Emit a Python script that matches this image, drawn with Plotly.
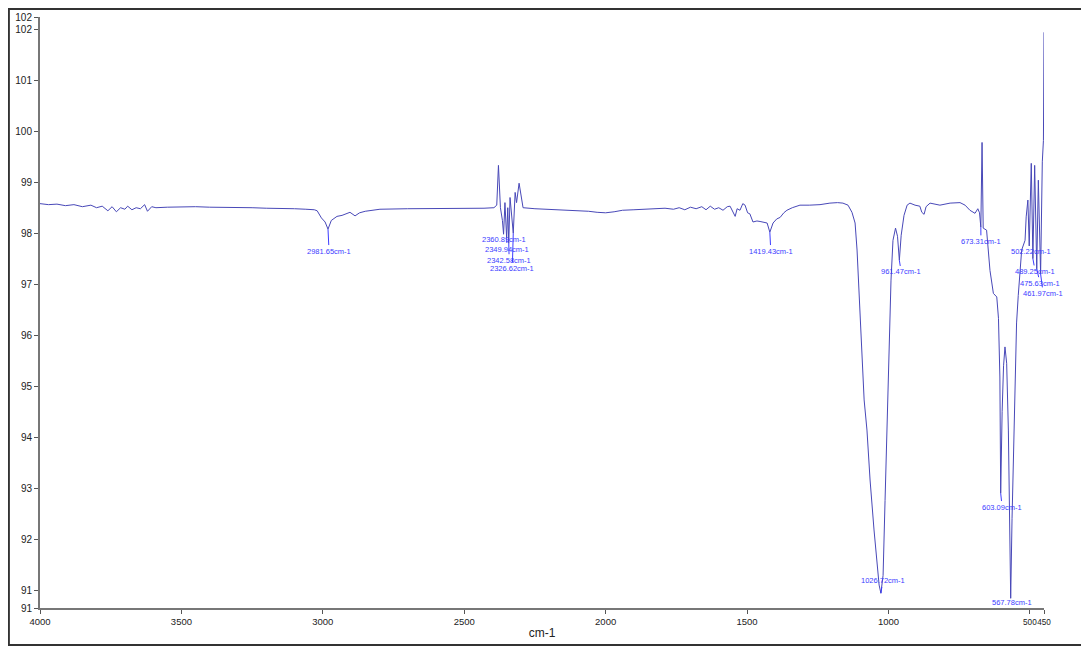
import plotly.graph_objects as go

# ---- data ----
wavenumber = [
    4000, 3970, 3940, 3910, 3880, 3850, 3820, 3800, 3780, 3760, 3745, 3730, 3715, 3700,
    3690, 3675, 3660, 3645, 3630, 3620, 3605, 3590, 3550, 3500, 3450, 3400, 3350, 3300,
    3250, 3200, 3150, 3100, 3060, 3030, 3020, 3005, 2992, 2981.65, 2970, 2950, 2932,
    2915, 2904, 2886, 2870, 2850, 2820, 2798, 2700, 2600, 2500, 2430, 2395, 2385, 2379,
    2372, 2365, 2360.89, 2356, 2349.94, 2346, 2342.58, 2338, 2333, 2326.62, 2320, 2315,
    2306, 2300, 2292, 2250, 2200, 2150, 2100, 2060, 2030, 2000, 1970, 1940, 1900, 1860,
    1820, 1790, 1760, 1740, 1720, 1700, 1680, 1660, 1645, 1630, 1615, 1600, 1585, 1570,
    1560, 1550, 1542, 1535, 1525, 1515, 1507, 1498, 1490, 1479, 1465, 1454, 1440, 1429,
    1419.43, 1408, 1395, 1383, 1370, 1359, 1340, 1313, 1280, 1242, 1207, 1180, 1161,
    1143, 1129, 1118, 1111, 1104, 1097, 1086, 1076, 1065, 1051, 1040, 1033, 1026.72,
    1019, 1012, 1005, 998, 991, 984, 975, 968, 961.47, 955, 945, 934, 924, 906, 889,
    882, 874, 867, 853, 818, 782, 747, 729, 712, 694, 684, 678, 673.31, 669, 665, 653,
    641, 629, 617, 611, 606, 603.09, 598, 593, 588, 582, 576, 571, 567.78, 563, 558,
    553, 547, 541, 535, 529, 517, 513, 507, 502.22, 495, 489.25, 483, 475.63, 470,
    461.97, 456, 452, 450,
]
transmittance = [
    98.58, 98.56, 98.57, 98.54, 98.56, 98.52, 98.55, 98.50, 98.53, 98.44, 98.52, 98.42, 98.50, 98.47,
    98.53, 98.46, 98.50, 98.48, 98.56, 98.43, 98.52, 98.50, 98.51, 98.52, 98.52, 98.51, 98.51, 98.50,
    98.50, 98.49, 98.49, 98.48, 98.47, 98.46, 98.44, 98.30, 98.22, 98.08, 98.25, 98.33, 98.35,
    98.38, 98.41, 98.34, 98.40, 98.43, 98.45, 98.47, 98.48, 98.48, 98.49, 98.49, 98.50, 98.55, 99.33,
    98.50, 98.25, 97.98, 98.60, 97.90, 98.50, 97.80, 98.70, 98.40, 98.00, 98.80, 98.60,
    98.98, 98.80, 98.50, 98.48, 98.47, 98.46, 98.45, 98.43, 98.41, 98.40, 98.42, 98.45, 98.46, 98.47,
    98.47, 98.49, 98.47, 98.50, 98.46, 98.51, 98.48, 98.52, 98.46, 98.53, 98.47, 98.50, 98.45, 98.52,
    98.53, 98.42, 98.33, 98.48, 98.45, 98.58, 98.55, 98.40, 98.38, 98.22, 98.24, 98.23, 98.22, 98.20,
    98.02, 98.20, 98.28, 98.31, 98.40, 98.45, 98.50, 98.55, 98.55, 98.56, 98.59, 98.60, 98.59,
    98.55, 98.41, 98.20, 97.67, 96.88, 95.90, 94.73, 94.14, 93.16, 92.18, 91.59, 91.10, 90.94,
    91.29, 92.76, 94.33, 95.90, 97.08, 97.86, 98.10, 97.94, 97.47, 97.96, 98.35, 98.55, 98.59, 98.55, 98.53,
    98.41, 98.37, 98.52, 98.59, 98.55, 98.59, 98.60, 98.55, 98.45, 98.39, 98.48, 98.40, 98.12, 99.78, 98.10, 98.06,
    97.27, 96.82, 96.75, 96.33, 95.18, 92.90, 94.50, 95.40, 95.77, 95.45, 94.14, 92.37, 90.84, 92.40, 93.55,
    95.12, 96.24, 96.78, 97.21, 97.67, 97.86, 98.32, 98.65, 97.75, 99.37, 97.50, 99.33, 97.30, 99.04,
    97.20, 99.40, 99.82, 101.94,
]

# peak labels
peak_wn = [2981.65, 2360.89, 2349.94, 2342.58, 2326.62, 1419.43, 1026.72, 961.47,
           673.31, 603.09, 567.78, 502.22, 489.25, 475.63, 461.97]
peak_val = [98.08, 97.98, 97.90, 97.80, 98.00, 98.02, 90.94, 97.47,
            98.12, 92.90, 90.84, 97.75, 97.50, 97.30, 97.20]
peak_text = [f"{w:.2f}cm-1" for w in peak_wn]

x_ticks = [4000, 3500, 3000, 2500, 2000, 1500, 1000, 500, 450]
x_tick_labels = ["4000", "3500", "3000", "2500", "2000", "1500", "1000", "500", "450"]
y_tick_vals = [90.65, 91, 92, 93, 94, 95, 96, 97, 98, 99, 100, 101, 102, 102.24]
y_tick_text = ["91", "91", "92", "93", "94", "95", "96", "97", "98", "99", "100", "101", "102", "102"]

# the two crowded labels at the right end are set slightly smaller
x_tick_text = [t if v > 500 else f"<span style='font-size:8.2px'>{t}</span>"
               for v, t in zip(x_ticks, x_tick_labels)]

# label placement (layout only)
label_x = [2978, 2361, 2348, 2341, 2330, 1416, 1020, 955,
           673, 598, 564, 495, 481, 464, 453]
label_y = [97.65, 97.88, 97.69, 97.47, 97.31, 97.65, 91.18, 97.24,
           97.84, 92.63, 90.76, 97.65, 97.25, 97.02, 96.82]

LINE = "#4848b8"
LABEL = "#3c3cff"
FONT = "Liberation Sans Narrow, Liberation Sans, Arial, sans-serif"

fig = go.Figure()
fig.add_trace(go.Scatter(x=wavenumber, y=transmittance, mode="lines",
                         line=dict(color=LINE, width=1), hoverinfo="x+y",
                         showlegend=False))

for w, v, t, lx, ly in zip(peak_wn, peak_val, peak_text, label_x, label_y):
    fig.add_annotation(x=w, y=v, ax=lx, ay=ly, axref="x", ayref="y",
                       text=t, showarrow=True, arrowhead=0, arrowwidth=1,
                       arrowcolor=LABEL, standoff=0, startstandoff=0,
                       font=dict(family=FONT, size=7.5, color=LABEL))

# outer frame around the picture
fig.add_shape(type="rect", xref="paper", yref="paper",
              x0=-0.031, x1=1.0408, y0=-0.0626, y1=1.0135,
              line=dict(color="#333333", width=2), layer="above")

fig.update_layout(
    width=1081, height=639,
    margin=dict(l=32, r=45, t=9, b=39),
    paper_bgcolor="white", plot_bgcolor="white",
    font=dict(family=FONT, size=10, color="#222222"),
    xaxis=dict(range=[4000, 450], tickvals=x_ticks, ticktext=x_tick_text,
               showgrid=False, zeroline=False, showline=True, linecolor="#777777",
               linewidth=2, ticks="outside", ticklen=4, tickcolor="#555555",
               tickangle=0, automargin=False,
               tickfont=dict(size=9.5, color="#222222"),
               title=dict(text="cm-1", font=dict(size=12, color="#222222"), standoff=2)),
    yaxis=dict(range=[90.65, 102.24], tickvals=y_tick_vals, ticktext=y_tick_text,
               showgrid=False, zeroline=False, showline=True, linecolor="#777777",
               linewidth=2, ticks="outside", ticklen=4, tickcolor="#555555",
               automargin=False,
               tickfont=dict(size=10, color="#222222")),
)

fig.write_html("out.html")
